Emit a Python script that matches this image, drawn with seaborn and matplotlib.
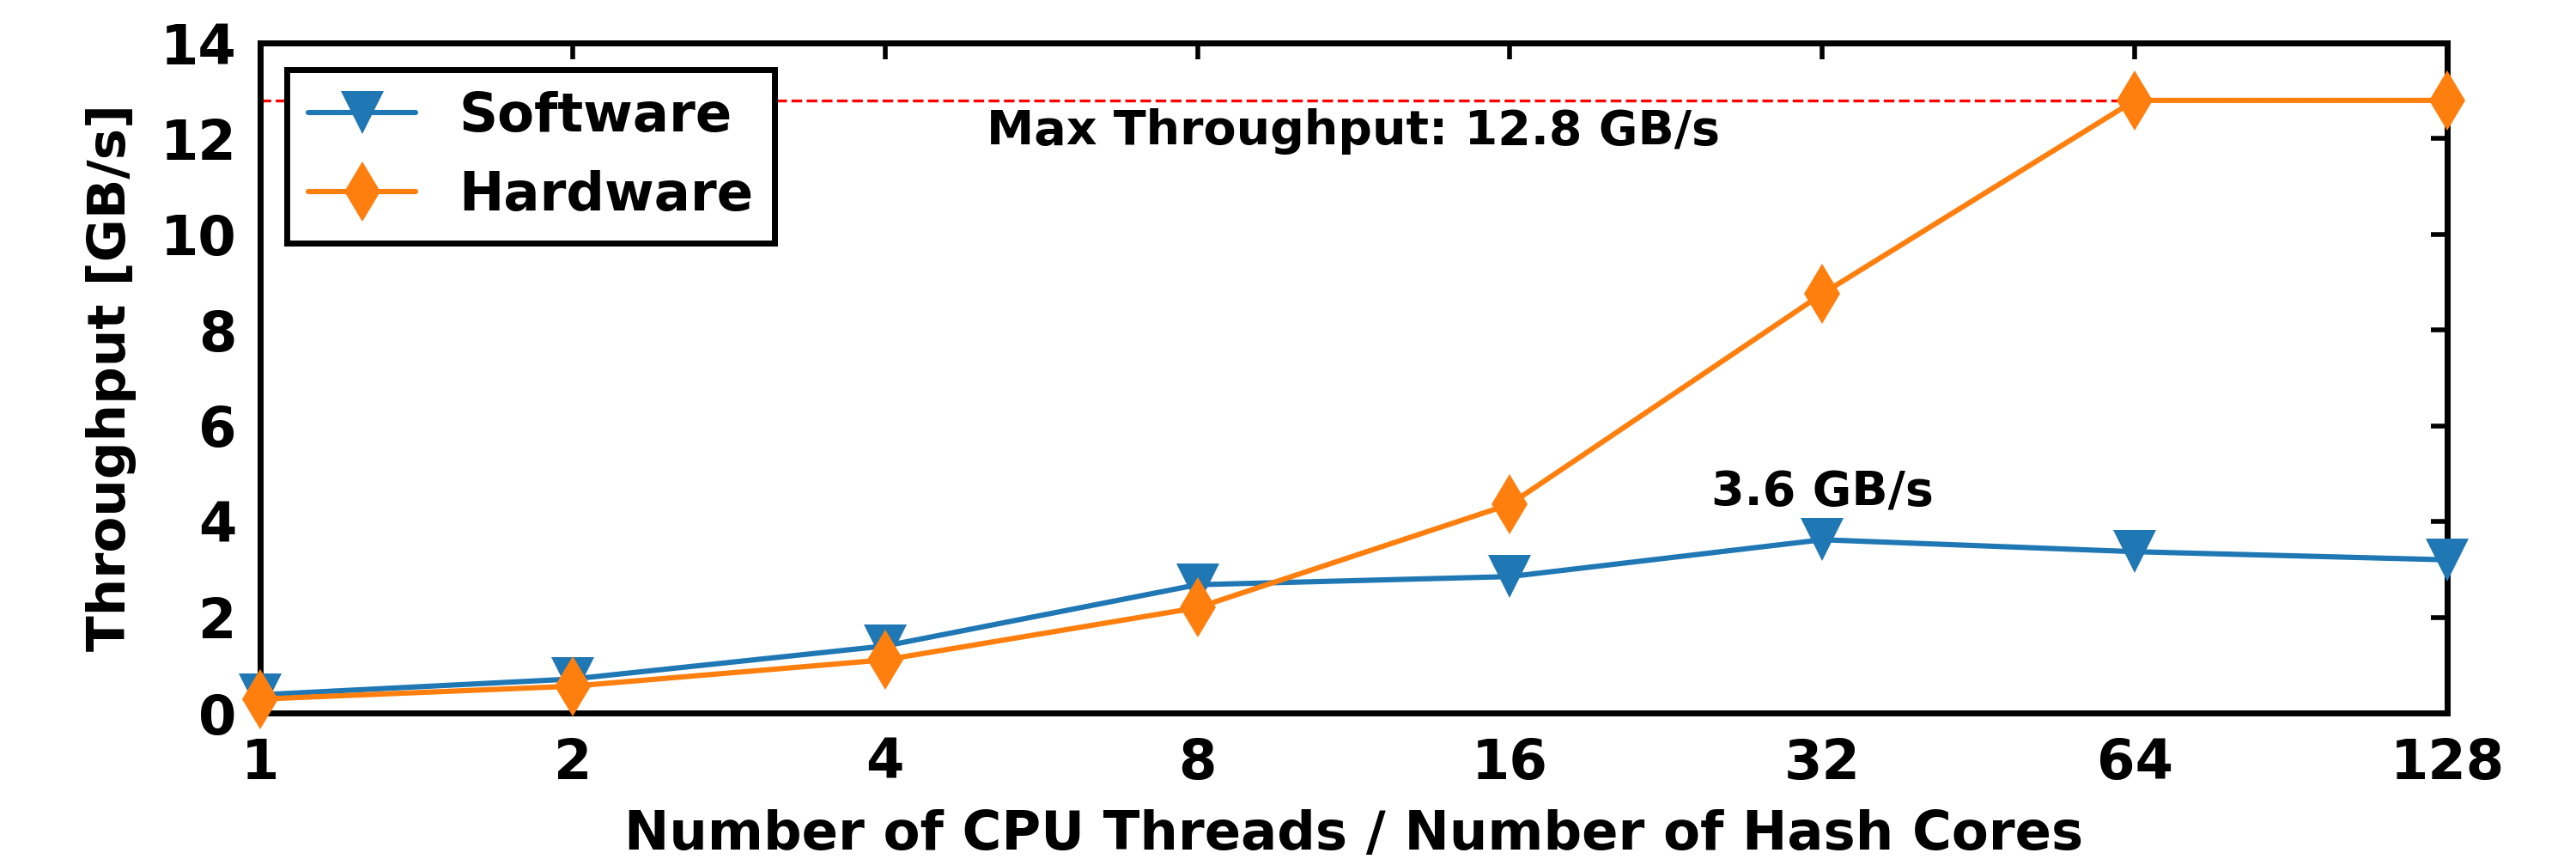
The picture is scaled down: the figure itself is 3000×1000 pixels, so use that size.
import pandas as pd
import seaborn as sns
import matplotlib.pyplot as plt

threads = [1, 2, 4, 8, 16, 32, 64, 128]
software = [0.38, 0.71, 1.40, 2.68, 2.85, 3.62, 3.37, 3.20]
hardware = [0.29, 0.56, 1.11, 2.20, 4.36, 8.76, 12.80, 12.80]
maxThroughput = 12.8
yTicks = [0, 2, 4, 6, 8, 10, 12, 14]

sns.set_style("white")
plt.rcParams['font.family'] = ['DejaVu Sans']
plt.rcParams['font.weight'] = 'bold'
plt.rcParams['text.color'] = 'black'
plt.rcParams['axes.labelcolor'] = 'black'
plt.rcParams['xtick.color'] = 'black'
plt.rcParams['ytick.color'] = 'black'

df = pd.DataFrame({'threads': threads, 'Software': software, 'Hardware': hardware})

fig, ax = plt.subplots(figsize=(15, 5), dpi=200)
fig.subplots_adjust(left=0.101, right=0.95, top=0.95, bottom=0.17)

ax.axhline(maxThroughput, color='red', linestyle='--', linewidth=1.2, zorder=1)

sns.lineplot(data=df, x='threads', y='Software', ax=ax, color='#1f77b4', marker='v',
             markersize=18, markeredgewidth=0, linewidth=2.2, label='Software',
             clip_on=False, zorder=3)
sns.lineplot(data=df, x='threads', y='Hardware', ax=ax, color='#ff7f0e', marker='d',
             markersize=18, markeredgewidth=0, linewidth=2.2, label='Hardware',
             clip_on=False, zorder=4)

ax.set_xscale('log', base=2)
ax.set_xlim(1, 128)
ax.set_ylim(0, 14)
ax.set_xticks(threads)
ax.set_xticklabels([str(t) for t in threads])
ax.set_yticks(yTicks)
ax.minorticks_off()

ax.tick_params(axis='both', which='both', direction='in', length=7, width=2,
               top=True, right=True, labelsize=23, pad=10)
for label in ax.get_xticklabels() + ax.get_yticklabels():
    label.set_fontweight('bold')
for spine in ax.spines.values():
    spine.set_linewidth(2.5)
    spine.set_color('black')

ax.set_xlabel('Number of CPU Threads / Number of Hash Cores', fontsize=22.5,
              fontweight='bold', labelpad=8)
ax.set_ylabel('Throughput [GB/s]', fontsize=22, fontweight='bold', labelpad=10)

ax.text(11.3, 12.15, 'Max Throughput: 12.8 GB/s', ha='center', va='center',
        fontsize=20, fontweight='bold')
ax.text(32, 4.6, '3.6 GB/s', ha='center', va='center', fontsize=20, fontweight='bold')

leg = ax.legend(loc='upper left', fontsize=22.5, frameon=True, fancybox=False,
                edgecolor='black', framealpha=1, borderaxespad=0.5,
                handlelength=2.0, labelspacing=0.5)
leg.get_frame().set_linewidth(2.5)
for t in leg.get_texts():
    t.set_fontweight('bold')

fig.savefig('out.png', dpi=200)
